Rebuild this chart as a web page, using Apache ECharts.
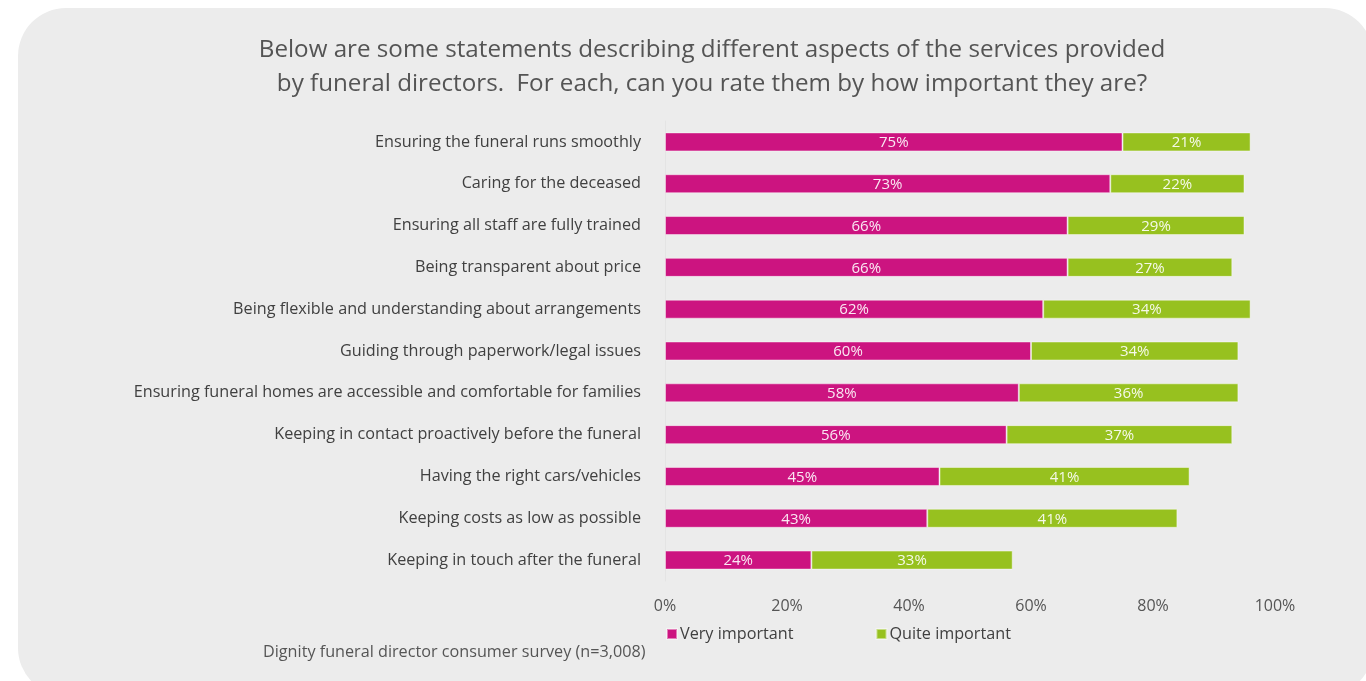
<!DOCTYPE html>
<html>
<head>
<meta charset="utf-8">
<script src="https://cdn.jsdelivr.net/npm/echarts@6/dist/echarts.min.js"></script>
<style>
  html, body { margin: 0; padding: 0; background: #ffffff; }
  #chart { width: 1366px; height: 681px; }
</style>
</head>
<body>
<div id="chart"></div>
<script>
// Statements, top to bottom
const categories = [
  'Ensuring the funeral runs smoothly',
  'Caring for the deceased',
  'Ensuring all staff are fully trained',
  'Being transparent about price',
  'Being flexible and understanding about arrangements',
  'Guiding through paperwork/legal issues',
  'Ensuring funeral homes are accessible and comfortable for families',
  'Keeping in contact proactively before the funeral',
  'Having the right cars/vehicles',
  'Keeping costs as low as possible',
  'Keeping in touch after the funeral'
];
const veryImportant  = [75, 73, 66, 66, 62, 60, 58, 56, 45, 43, 24];
const quiteImportant = [21, 22, 29, 27, 34, 34, 36, 37, 41, 41, 33];
const seriesNames = ['Very important', 'Quite important'];
const titleLines = [
  'Below are some statements describing different aspects of the services provided',
  'by funeral directors.  For each, can you rate them by how important they are?'
];
const sourceNote = 'Dignity funeral director consumer survey (n=3,008)';

const FONT = '"Open Sans", "Noto Sans", sans-serif';
const MAGENTA = '#cc1480';
const GREEN = '#97c11f';

const chart = echarts.init(document.getElementById('chart'), null, { renderer: 'canvas' });

const barLabel = {
  show: true,
  position: 'inside',
  color: 'rgba(255,255,255,0.9)',
  fontFamily: FONT,
  fontSize: 15,
  offset: [0, 1],
  formatter: p => p.value + '%'
};

chart.setOption({
  animation: false,
  backgroundColor: '#ffffff',
  graphic: [
    {
      // rounded grey card behind the whole chart
      type: 'rect',
      z: -10,
      shape: { x: 18, y: 8, width: 1355, height: 688, r: 48 },
      style: { fill: '#ececec' }
    },
    {
      type: 'text',
      style: {
        text: titleLines.join('\n'),
        x: 712, y: 33,
        textAlign: 'center',
        fill: '#545454',
        font: '24.2px ' + FONT,
        lineHeight: 34
      }
    },
    {
      type: 'text',
      style: {
        text: sourceNote,
        x: 263, y: 644,
        fill: '#555555',
        font: '16.2px ' + FONT
      }
    }
  ],
  legend: {
    data: seriesNames,
    left: 661,
    top: 621,
    itemWidth: 10,
    itemHeight: 10,
    itemGap: 82,
    icon: 'rect',
    textStyle: { color: '#404040', fontFamily: FONT, fontSize: 16.2, padding: [0, 0, 0, -2] }
  },
  grid: { left: 665, right: 91, top: 121, bottom: 100, containLabel: false },
  xAxis: {
    type: 'value',
    min: 0,
    max: 100,
    interval: 20,
    axisLine: { show: false },
    axisTick: { show: false },
    splitLine: { show: false },
    axisLabel: {
      color: '#555555',
      fontFamily: FONT,
      fontSize: 16,
      margin: 17,
      formatter: v => v + '%'
    }
  },
  yAxis: {
    type: 'category',
    data: categories,
    inverse: true,
    axisLine: { show: true, lineStyle: { color: '#e4e4e4', width: 1 } },
    axisTick: { show: false },
    axisLabel: { color: '#404040', fontFamily: FONT, fontSize: 16.2, margin: 24 }
  },
  series: [
    {
      name: seriesNames[0],
      type: 'bar',
      stack: 'total',
      data: veryImportant,
      barWidth: 19,
      itemStyle: { color: MAGENTA, borderColor: 'rgba(255,255,255,0.45)', borderWidth: 1 },
      label: barLabel
    },
    {
      name: seriesNames[1],
      type: 'bar',
      stack: 'total',
      data: quiteImportant,
      barWidth: 19,
      itemStyle: { color: GREEN, borderColor: 'rgba(255,255,255,0.45)', borderWidth: 1 },
      label: barLabel
    }
  ]
});
</script>
</body>
</html>
